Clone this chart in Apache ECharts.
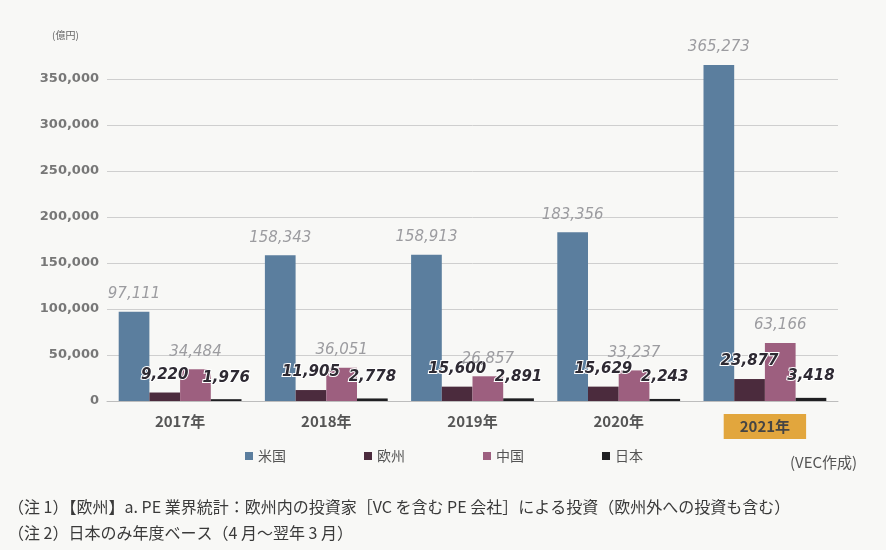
<!DOCTYPE html>
<html><head><meta charset="utf-8">
<script src="https://cdn.jsdelivr.net/npm/echarts@6/dist/echarts.min.js"></script>
<style>html,body{margin:0;padding:0;background:#f8f8f6}#c{width:886px;height:550px}</style>
</head><body><div id="c"></div>
<script>
const categories = ['2017年','2018年','2019年','2020年','2021年'];
const seriesNames = ['米国','欧州','中国','日本'];
const usValues = [97111, 158343, 158913, 183356, 365273];
const euValues = [9220, 11905, 15600, 15629, 23877];
const cnValues = [34484, 36051, 26857, 33237, 63166];
const jpValues = [1976, 2778, 2891, 2243, 3418];
const yTicks = [0, 50000, 100000, 150000, 200000, 250000, 300000, 350000];

const colors = ['#5b7e9e', '#4b2b3d', '#9d5f7f', '#1f1f22'];
const fmt = v => v.toLocaleString('en-US');
const numFont = 'DejaVu Sans';

function lightLabel(){
  return {show:true, position:'top', distance:10, formatter:p=>fmt(p.value),
    fontFamily:numFont, fontStyle:'italic', fontSize:15, color:'#9c9ca0'};
}
function darkLabel(dist){
  return {show:true, position:'top', distance:dist, formatter:p=>fmt(p.value),
    fontFamily:numFont, fontStyle:'italic', fontWeight:'bold', fontSize:15, color:'#2e2a33',
    textBorderColor:'#ffffff', textBorderWidth:2};
}
const chart = echarts.init(document.getElementById('c'));
chart.setOption({
  backgroundColor:'#f8f8f6',
  animation:false,
  grid:{left:107, right:48, top:79, bottom:149},
  legend:{data:seriesNames, left:240, top:444, itemGap:78, itemWidth:8, itemHeight:8,
    icon:'rect', textStyle:{fontFamily:'Noto Sans CJK JP', fontSize:14, color:'#555'}},
  xAxis:{type:'category', data:categories,
    axisLine:{lineStyle:{color:'#bdbdbd'}}, axisTick:{show:false},
    axisLabel:{margin:13, fontFamily:'Noto Sans CJK JP', fontWeight:'bold', fontSize:15, color:'#555',
      formatter:(v,i)=> i===4 ? '{hl|'+v+'}' : v,
      rich:{hl:{backgroundColor:'#e2a63d', padding:[5,16,5,16], fontFamily:'Noto Sans CJK JP', fontWeight:'bold', fontSize:15, color:'#444'}}}},
  yAxis:{type:'value', min:0, max:350000, interval:50000,
    axisLine:{show:false}, axisTick:{show:false},
    splitLine:{lineStyle:{color:'#cfcfcf'}},
    axisLabel:{margin:8, fontFamily:'DejaVu Sans', fontWeight:'bold', fontSize:13, color:'#777', formatter:v=>fmt(v)}},
  series:[
    {name:seriesNames[0], type:'bar', data:usValues, barGap:'0%', barCategoryGap:'16%', clip:false,
     itemStyle:{color:colors[0]}, label:lightLabel()},
    {name:seriesNames[1], type:'bar', data:euValues, clip:false,
     itemStyle:{color:colors[1]}, label:darkLabel(10)},
    {name:seriesNames[2], type:'bar', data:cnValues, clip:false,
     itemStyle:{color:colors[2]}, label:lightLabel()},
    {name:seriesNames[3], type:'bar', data:jpValues, clip:false,
     itemStyle:{color:colors[3]}, label:darkLabel(14)}
  ],
  graphic:[
    {type:'text', left:52, top:30, style:{text:'(億円)', fontFamily:'Noto Sans CJK JP', fontSize:10, fill:'#666'}},
    {type:'text', left:790, top:455, style:{text:'(VEC作成)', fontFamily:'Noto Sans CJK JP', fontSize:15, fill:'#555'}},
    {type:'text', left:8, top:499, style:{text:'（注 1）【欧州】a. PE 業界統計：欧州内の投資家［VC を含む PE 会社］による投資（欧州外への投資も含む）', fontFamily:'Noto Sans CJK JP', fontSize:16, fill:'#3a3a3a'}},
    {type:'text', left:8, top:525, style:{text:'（注 2）日本のみ年度ベース（4 月～翌年 3 月）', fontFamily:'Noto Sans CJK JP', fontSize:16, fill:'#3a3a3a'}}
  ]
});
</script></body></html>
